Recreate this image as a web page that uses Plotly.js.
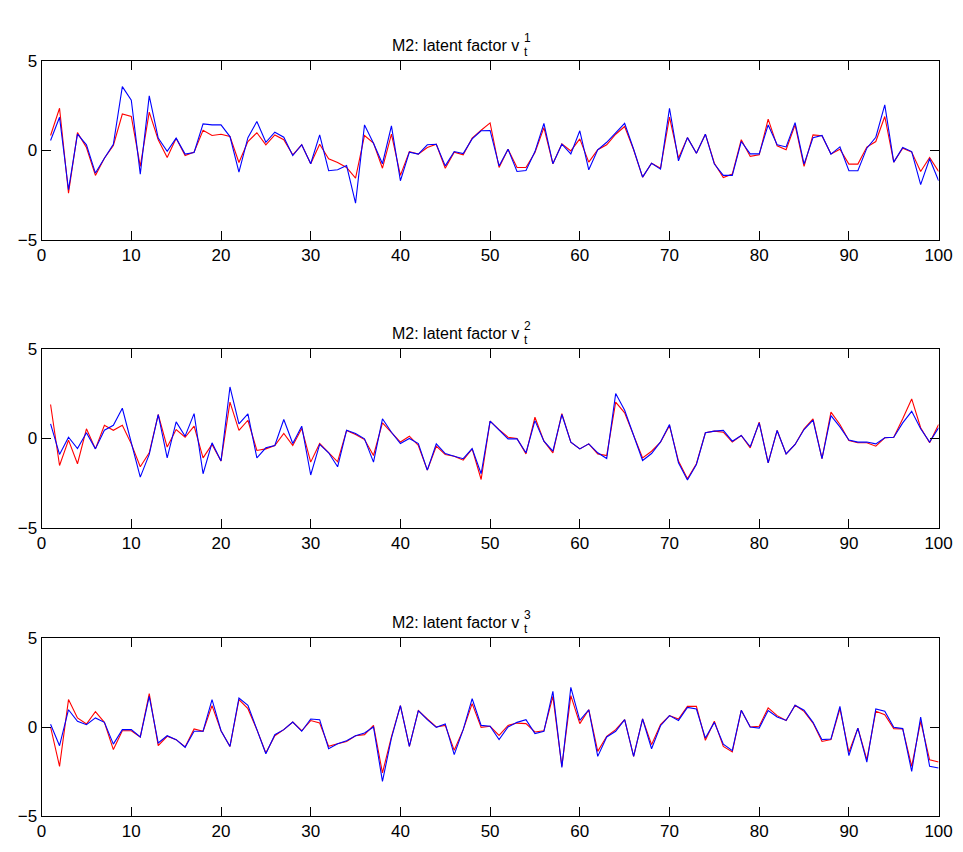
<!DOCTYPE html>
<html><head><meta charset="utf-8">
<script src="https://cdn.plot.ly/plotly-3.0.1.min.js"></script>
<style>body{margin:0;background:#fff}#c{width:963px;height:852px}</style>
</head><body><div id="c"></div>
<script>
const t = Array.from({length:100},(_,i)=>i+1);

const v1Red = [0.84,2.36,-2.38,1.0,0.17,-1.39,-0.43,0.28,2.04,1.9,-0.89,2.14,0.6,-0.39,0.69,-0.28,-0.09,1.13,0.84,0.91,0.78,-0.67,0.5,0.99,0.32,
0.87,0.6,-0.24,0.32,-0.74,0.35,-0.46,-0.67,-0.95,-1.54,0.84,0.41,-0.99,0.91,-1.39,-0.06,-0.2,0.17,0.35,-0.99,-0.09,-0.24,0.69,1.13,1.54,
-0.95,0.07,-0.95,-0.95,-0.11,1.28,-0.74,0.37,-0.02,0.65,-0.65,0.04,0.32,0.91,1.34,0.04,-1.49,-0.71,-0.99,1.86,-0.43,0.72,-0.15,0.91,-0.71,
-1.51,-1.32,0.6,-0.33,-0.24,1.75,0.26,0.04,1.43,-0.89,0.87,0.82,-0.2,0.07,-0.76,-0.76,0.19,0.5,1.9,-0.65,0.13,-0.09,-1.17,-0.39,-1.17];
const v1Blue = [0.56,1.86,-2.19,0.91,0.32,-1.26,-0.43,0.35,3.57,2.81,-1.32,3.05,0.69,-0.04,0.69,-0.2,-0.11,1.49,1.43,1.43,0.78,-1.21,0.72,1.62,0.46,
1.02,0.74,-0.28,0.32,-0.74,0.87,-1.13,-1.08,-0.84,-2.94,1.43,0.41,-0.74,1.38,-1.69,-0.09,-0.2,0.32,0.35,-0.86,-0.06,-0.17,0.65,1.1,1.12,
-0.86,0.07,-1.17,-1.12,-0.06,1.51,-0.74,0.35,-0.19,1.1,-1.08,0.04,0.46,1.02,1.52,0.07,-1.49,-0.71,-1.04,2.36,-0.58,0.72,-0.15,0.91,-0.76,
-1.39,-1.39,0.5,-0.19,-0.19,1.43,0.32,0.2,1.56,-0.76,0.72,0.84,-0.2,0.2,-1.13,-1.13,0.13,0.74,2.55,-0.65,0.17,-0.06,-1.91,-0.46,-1.69];

const v2Red = [1.9,-1.51,-0.09,-1.41,0.54,-0.58,0.74,0.46,0.74,-0.3,-1.58,-0.8,1.34,-0.48,0.5,0.07,0.69,-1.08,-0.33,-1.26,2.03,0.45,1.02,-0.67,-0.58,
-0.39,0.28,-0.39,0.56,-1.32,-0.28,-0.8,-1.3,0.45,0.22,-0.06,-0.95,0.87,0.32,-0.2,0.13,-0.39,-1.77,-0.43,-0.89,-0.99,-1.21,-0.58,-2.29,0.97,
0.5,0.07,0.0,-0.86,1.19,-0.15,-0.8,1.39,-0.2,-0.58,-0.3,-0.86,-0.95,2.03,1.43,0.22,-1.08,-0.71,-0.2,0.72,-1.26,-2.25,-1.41,0.32,0.41,
0.35,-0.2,0.17,-0.52,0.91,-1.36,0.45,-0.86,-0.33,0.54,1.1,-1.13,1.47,0.78,-0.11,-0.24,-0.24,-0.43,0.04,0.07,1.1,2.21,0.6,-0.24,0.78];
const v2Blue = [0.82,-0.89,0.07,-0.56,0.32,-0.58,0.46,0.74,1.69,-0.2,-2.16,-0.89,1.34,-1.08,0.93,0.13,1.39,-1.97,-0.24,-1.26,2.88,0.82,1.38,-1.08,-0.52,
-0.39,1.06,-0.28,0.69,-2.04,-0.33,-0.8,-1.58,0.46,0.28,-0.02,-1.32,1.1,0.35,-0.28,0.0,-0.28,-1.77,-0.3,-0.84,-0.99,-1.13,-0.56,-1.97,0.97,
0.5,-0.02,-0.02,-0.8,1.0,-0.15,-0.71,1.34,-0.2,-0.58,-0.3,-0.8,-1.12,2.51,1.58,0.22,-1.23,-0.84,-0.19,0.78,-1.36,-2.32,-1.45,0.32,0.41,
0.45,-0.15,0.17,-0.46,0.87,-1.36,0.45,-0.86,-0.33,0.5,1.02,-1.13,1.28,0.65,-0.09,-0.2,-0.2,-0.3,0.04,0.07,0.87,1.52,0.54,-0.2,0.6];

const v3Red = [0.0,-2.21,1.54,0.51,0.17,0.86,0.26,-1.27,-0.21,-0.21,-0.56,1.87,-1.05,-0.52,-0.71,-1.12,-0.11,-0.24,1.2,-0.21,-1.09,1.54,1.03,-0.15,-1.46,
-0.49,-0.15,0.28,-0.21,0.36,0.22,-1.09,-0.94,-0.81,-0.49,-0.43,0.09,-2.58,-0.56,1.2,-1.09,0.92,0.45,0.0,0.09,-1.31,-0.15,1.31,-0.02,0.04,
-0.47,0.09,0.22,0.19,-0.28,-0.21,1.72,-2.21,1.76,0.19,0.97,-1.37,-0.52,-0.15,0.41,-1.65,0.45,-0.99,0.13,0.64,0.45,1.16,1.16,-0.75,0.32,
-1.09,-1.4,0.94,0.0,0.04,1.07,0.64,0.37,1.22,0.88,0.22,-0.81,-0.71,1.03,-1.42,-0.06,-1.84,0.88,0.69,-0.09,-0.11,-2.21,0.32,-1.84,-1.97];
const v3Blue = [0.15,-1.05,0.97,0.32,0.13,0.51,0.26,-0.96,-0.15,-0.15,-0.56,1.72,-0.9,-0.49,-0.71,-1.14,-0.24,-0.24,1.54,-0.21,-1.09,1.63,1.22,-0.15,-1.5,
-0.43,-0.15,0.28,-0.24,0.45,0.41,-1.22,-0.94,-0.77,-0.49,-0.34,0.0,-3.05,-0.62,1.2,-1.09,0.92,0.41,-0.02,0.17,-1.55,-0.15,1.59,0.09,0.04,
-0.71,0.0,0.26,0.41,-0.37,-0.24,2.0,-2.27,2.23,0.37,0.97,-1.65,-0.56,-0.24,0.41,-1.65,0.45,-1.22,0.07,0.64,0.37,1.1,1.01,-0.62,0.26,
-0.96,-1.33,0.94,0.0,-0.06,0.92,0.56,0.37,1.22,0.94,0.26,-0.71,-0.67,1.16,-1.61,-0.06,-1.97,1.01,0.88,-0.02,-0.09,-2.49,0.56,-2.21,-2.3];

const titles = ['1','2','3'];
const xTicks = [0,10,20,30,40,50,60,70,80,90,100];
const yTicks = [-5,0,5];

const W = 963, H = 852;
const xDom = [41.6/W, 938.6/W];
const panels = [
  {top:61, bot:240, red:v1Red, blue:v1Blue},
  {top:349, bot:528, red:v2Red, blue:v2Blue},
  {top:638, bot:816, red:v3Red, blue:v3Blue}
];

const data = [];
const layout = {
  width: W, height: H,
  margin: {l:0, r:0, t:0, b:0},
  paper_bgcolor: '#fff', plot_bgcolor: '#fff',
  showlegend: false,
  font: {family: 'Liberation Sans, Arial, sans-serif', color: '#000'},
  annotations: []
};
const axFont = {family: 'Liberation Sans, Arial, sans-serif', size: 17, color: '#000'};

panels.forEach((p, k) => {
  const n = k === 0 ? '' : String(k+1);
  const xa = 'x' + n, ya = 'y' + n;
  data.push({x: t, y: p.red, xaxis: xa, yaxis: ya, type: 'scatter', mode: 'lines',
    line: {color: '#ff0000', width: 1.1}, hoverinfo: 'skip'});
  data.push({x: t, y: p.blue, xaxis: xa, yaxis: ya, type: 'scatter', mode: 'lines',
    line: {color: '#0000ff', width: 1.1}, hoverinfo: 'skip'});
  const yDom = [1 - p.bot/H, 1 - p.top/H];
  layout['xaxis' + n] = {
    domain: xDom, range: [0, 100], anchor: ya,
    tickvals: xTicks, ticktext: xTicks.map(String),
    ticks: 'inside', ticklen: 9, tickwidth: 1, tickcolor: '#000',
    showline: true, linecolor: '#000', linewidth: 1, mirror: 'ticks',
    showgrid: false, zeroline: false, tickfont: axFont
  };
  layout['yaxis' + n] = {
    domain: yDom, range: [-5, 5], anchor: xa,
    tickvals: yTicks, ticktext: ['\u22125','0','5'],
    ticks: 'inside', ticklen: 9, tickwidth: 1, tickcolor: '#000',
    showline: true, linecolor: '#000', linewidth: 1, mirror: 'ticks',
    showgrid: false, zeroline: false, tickfont: axFont
  };
  const ty = p.top - 16;
  layout.annotations.push({
    xref: 'paper', yref: 'paper', x: 521/W, y: 1 - ty/H,
    xanchor: 'right', yanchor: 'middle', showarrow: false,
    text: 'M2: latent factor v', font: {size: 16, color: '#000'}
  });
  layout.annotations.push({
    xref: 'paper', yref: 'paper', x: 521.5/W, y: 1 - (ty - 7)/H,
    xanchor: 'left', yanchor: 'middle', showarrow: false,
    text: titles[k], font: {size: 12, color: '#000'}
  });
  layout.annotations.push({
    xref: 'paper', yref: 'paper', x: 521.5/W, y: 1 - (ty + 7)/H,
    xanchor: 'left', yanchor: 'middle', showarrow: false,
    text: 't', font: {size: 12, color: '#000'}
  });
});

Plotly.newPlot('c', data, layout, {staticPlot: true, displayModeBar: false});
</script></body></html>
